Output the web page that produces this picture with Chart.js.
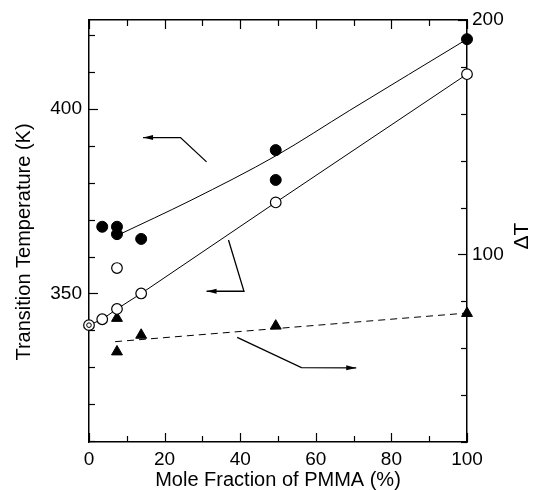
<!DOCTYPE html>
<html>
<head>
<meta charset="utf-8">
<script src="https://cdn.jsdelivr.net/npm/chart.js@4/dist/chart.umd.min.js"></script>
<style>
  html, body { margin: 0; padding: 0; background: #fff; }
  #obal { width: 533px; height: 490px; }
</style>
</head>
<body>
<div id="obal"><canvas id="graf" width="533" height="490"></canvas></div>
<script>
// body
const xPlne = [3.5, 7.4, 7.4, 13.8, 49.4, 49.4, 100];
const tPlne = [368.1, 368.1, 366.1, 364.8, 388.9, 380.8, 419.0];
const xPrazdne = [0, 3.5, 7.4, 7.4, 13.8, 49.4, 100];
const tPrazdne = [341.4, 343.0, 345.8, 356.9, 350.0, 374.7, 409.5];
const xTrojuhel = [7.4, 7.4, 13.8, 49.4, 100];
const deltaT = [72.8, 58.5, 65.6, 69.5, 74.9];

// proložené křivky
const xKrivkaPlne = [7.6, 27, 49.7, 69, 100];
const tKrivkaPlne = [365.8, 375.3, 387.5, 399.7, 419.0];
const xKrivkaPrazdne = [0, 3.5, 7.4, 13.8, 49.4, 100];
const tKrivkaPrazdne = [341.4, 343.0, 345.8, 350.0, 374.7, 409.5];
const xKrivkaDelta = [6.9, 100];
const dKrivkaDelta = [62.8, 75.0];

// osy
const xTicky = [0, 10, 20, 30, 40, 50, 60, 70, 80, 90, 100];
const xPopisky = [0, 20, 40, 60, 80, 100];
const tTicky = [310, 320, 330, 340, 350, 360, 370, 380, 390, 400, 410, 420];
const tPopisky = [350, 400];
const dTicky = [20, 40, 60, 80, 100, 120, 140, 160, 180, 200];
const dPopisky = [100, 200];

// šipky k osám (v jednotkách grafu: x %, teplota K)
const sipky = [
  [[31.1, 385.7], [24.2, 392.3], [14.3, 392.3]],
  [[36.9, 364.5], [41.0, 350.6], [31.1, 350.6]],
  [[39.2, 338.1], [56.2, 329.9], [70.7, 329.8]]
];

function body(xs, ys) { return xs.map(function(x, i) { return { x: x, y: ys[i] }; }); }

const pismo = "'Liberation Sans', Arial, sans-serif";

const doplnky = {
  id: "doplnky",
  afterDraw: function(chart) {
    const ctx = chart.ctx;
    const ca = chart.chartArea;
    ctx.save();
    ctx.strokeStyle = "#000";
    ctx.fillStyle = "#000";
    ctx.lineWidth = 1.2;

    // ticky dovnitř
    function kresliTicky(id, hodnoty, hlavni) {
      const s = chart.scales[id];
      hodnoty.forEach(function(v) {
        const p = Math.round(s.getPixelForValue(v)) + 0.5;
        const len = hlavni.indexOf(v) >= 0 ? 9 : 6;
        ctx.beginPath();
        if (id === "x") { ctx.moveTo(p, ca.bottom); ctx.lineTo(p, ca.bottom - len); }
        if (id === "x2") { ctx.moveTo(p, ca.top); ctx.lineTo(p, ca.top + len); }
        if (id === "y") { ctx.moveTo(ca.left, p); ctx.lineTo(ca.left + len, p); }
        if (id === "y2") { ctx.moveTo(ca.right, p); ctx.lineTo(ca.right - len, p); }
        ctx.stroke();
      });
    }
    kresliTicky("x", xTicky, xPopisky);
    kresliTicky("x2", xTicky, xPopisky);
    kresliTicky("y", tTicky, tPopisky);
    kresliTicky("y2", dTicky, dPopisky);

    // šipky
    const sx = chart.scales.x, sy = chart.scales.y;
    ctx.lineWidth = 1.3;
    sipky.forEach(function(s) {
      const pts = s.map(function(p) { return [sx.getPixelForValue(p[0]), sy.getPixelForValue(p[1])]; });
      ctx.beginPath();
      ctx.moveTo(pts[0][0], pts[0][1]);
      for (let i = 1; i < pts.length; i++) ctx.lineTo(pts[i][0], pts[i][1]);
      ctx.stroke();
      const a = pts[pts.length - 2], b = pts[pts.length - 1];
      const ang = Math.atan2(b[1] - a[1], b[0] - a[0]);
      ctx.beginPath();
      ctx.moveTo(b[0], b[1]);
      ctx.lineTo(b[0] - 10 * Math.cos(ang) + 2.5 * Math.sin(ang), b[1] - 10 * Math.sin(ang) - 2.5 * Math.cos(ang));
      ctx.lineTo(b[0] - 10 * Math.cos(ang) - 2.5 * Math.sin(ang), b[1] - 10 * Math.sin(ang) + 2.5 * Math.cos(ang));
      ctx.closePath();
      ctx.fill();
    });

    // názvy svislých os
    ctx.textAlign = "center";
    ctx.textBaseline = "middle";
    ctx.font = "20px " + pismo;
    ctx.save();
    ctx.translate(24, 242);
    ctx.rotate(-Math.PI / 2);
    ctx.fillText("Transition Temperature (K)", 0, 0);
    ctx.restore();
    ctx.save();
    ctx.font = "21px " + pismo;
    ctx.translate(522, 236);
    ctx.rotate(-Math.PI / 2);
    ctx.fillText("ΔT", 0, 0);
    ctx.restore();
    ctx.restore();
  }
};

window.addEventListener("DOMContentLoaded", function() {
  const ctx = document.getElementById("graf").getContext("2d");
  const stredKruhu = [{ x: xPrazdne[0], y: tPrazdne[0] }];

  new Chart(ctx, {
    type: "scatter",
    data: {
      datasets: [
        { data: stredKruhu, pointStyle: "circle", pointRadius: 2.3, backgroundColor: "#fff", borderColor: "#000", borderWidth: 1, clip: false },
        { data: body(xPlne, tPlne), pointStyle: "circle", pointRadius: 5.5, backgroundColor: "#000", borderColor: "#000", borderWidth: 1, clip: false },
        { data: body(xPrazdne, tPrazdne), pointStyle: "circle", pointRadius: 5.3, backgroundColor: "#fff", borderColor: "#000", borderWidth: 1.2, clip: false },
        { data: body(xTrojuhel, deltaT), yAxisID: "y2", pointStyle: "triangle", pointRadius: 6.3, backgroundColor: "#000", borderColor: "#000", borderWidth: 1, clip: false },
        { data: body(xKrivkaPlne, tKrivkaPlne), showLine: true, pointRadius: 0, borderColor: "#000", borderWidth: 1, cubicInterpolationMode: "monotone", clip: false },
        { data: body(xKrivkaPrazdne, tKrivkaPrazdne), showLine: true, pointRadius: 0, borderColor: "#000", borderWidth: 1, tension: 0, clip: false },
        { data: body(xKrivkaDelta, dKrivkaDelta), yAxisID: "y2", showLine: true, pointRadius: 0, borderColor: "#000", borderWidth: 1, borderDash: [7, 5], clip: false }
      ]
    },
    options: {
      responsive: false,
      animation: false,
      devicePixelRatio: 1,
      layout: { padding: 0 },
      plugins: { legend: { display: false }, tooltip: { enabled: false } },
      scales: {
        x: {
          type: "linear", position: "bottom", min: 0, max: 100,
          afterBuildTicks: function(s) { s.ticks = xTicky.map(function(v) { return { value: v }; }); },
          afterFit: function(s) { s.height = 48; },
          grid: { display: false, drawTicks: false, tickLength: 0 },
          border: { display: true, color: "#000", width: 1.5 },
          ticks: { padding: 6, color: "#000", font: { family: pismo, size: 19 }, maxRotation: 0, autoSkip: false,
            callback: function(v) { return xPopisky.indexOf(v) >= 0 ? String(v) : null; } },
          title: { display: true, text: "Mole Fraction of PMMA (%)", color: "#000", font: { family: pismo, size: 20, lineHeight: 1 }, padding: { top: 0, bottom: 0 } }
        },
        x2: {
          type: "linear", position: "top", min: 0, max: 100,
          afterFit: function(s) { s.height = 20; },
          grid: { display: false, drawTicks: false, tickLength: 0 },
          border: { display: true, color: "#000", width: 1.5 },
          ticks: { display: false }
        },
        y: {
          type: "linear", position: "left", min: 309.7, max: 424.2,
          afterBuildTicks: function(s) { s.ticks = tTicky.map(function(v) { return { value: v }; }); },
          afterFit: function(s) { s.width = 89; },
          grid: { display: false, drawTicks: false, tickLength: 0 },
          border: { display: true, color: "#000", width: 1.5 },
          ticks: { padding: 7, color: "#000", font: { family: pismo, size: 19 }, autoSkip: false,
            callback: function(v) { return tPopisky.indexOf(v) >= 0 ? String(v) : null; } }
        },
        y2: {
          type: "linear", position: "right", min: 20, max: 200,
          afterBuildTicks: function(s) { s.ticks = dTicky.map(function(v) { return { value: v }; }); },
          afterFit: function(s) { s.width = 66; },
          grid: { display: false, drawTicks: false, tickLength: 0 },
          border: { display: true, color: "#000", width: 1.5 },
          ticks: { padding: 5, color: "#000", font: { family: pismo, size: 19 }, autoSkip: false,
            callback: function(v) { return dPopisky.indexOf(v) >= 0 ? String(v) : null; } }
        }
      }
    },
    plugins: [doplnky]
  });
});
</script>
</body>
</html>
